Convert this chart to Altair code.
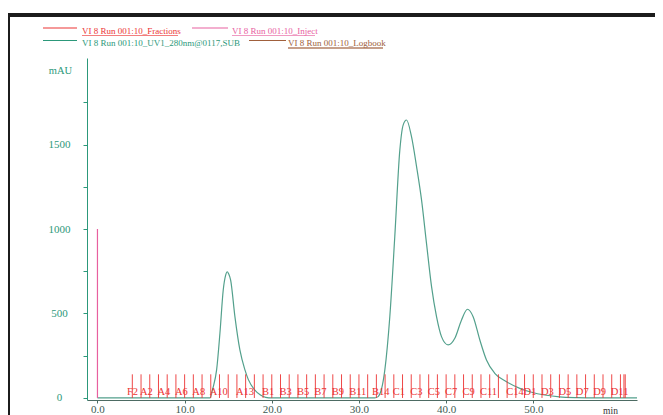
import altair as alt
import pandas as pd

# ---- data ----
uv_time = [0.0, 12.9, 13.25, 13.67, 14.05, 14.43, 14.7, 14.89, 15.05, 15.28, 15.77, 16.34,
           16.92, 17.3, 18.0, 18.7, 19.3, 20.0, 31.8, 32.2, 32.97, 33.54, 34.11, 34.69,
           35.07, 35.46, 36.03, 36.61, 37.18, 37.75, 38.33, 38.9, 39.47, 40.23, 41.0,
           41.77, 42.45, 43.1, 43.87, 44.63, 45.58, 46.93, 48.45, 49.6, 51.5, 53.0, 55.0,
           57.0, 61.9]
uv_mau = [0, 0, 59, 166, 383, 639, 725, 747, 735, 698, 481, 284,
          166, 110, 50, 18, 4, 0, 0, 8, 166, 481, 954, 1467,
          1615, 1645, 1546, 1369, 1172, 915, 659, 481, 363, 314, 353,
          462, 525, 481, 343, 225, 146, 96, 57, 37, 16, 7, 2,
          0, 0]

frac_marks = [4, 5, 6, 7, 8, 9, 10, 11, 12, 13, 14, 15, 16, 17, 18, 19, 20, 21, 22, 23,
              24, 25, 26, 27, 28, 29, 30, 31, 32, 33, 34, 35, 36, 37, 38, 39, 40, 41, 42,
              43, 44, 45, 46, 47, 48, 49, 50, 51, 52, 53, 54, 55, 56, 57, 58, 59, 60,
              60.4, 60.55]
frac_label_names = ["F2", "A2", "A4", "A6", "A8", "A10", "A13", "B1", "B3", "B5", "B7",
                    "B9", "B11", "B14", "C1", "C3", "C5", "C7", "C9", "C11", "C14", "D1",
                    "D3", "D5", "D7", "D9", "D11"]
frac_label_times = [3.5, 5, 7, 9, 11, 13, 16, 19, 21, 23, 25, 27, 29, 31.6, 34, 36, 38, 40,
                    42, 44, 47, 49, 51, 53, 55, 57, 59]
inject_time = [0.0]
inject_mau = [1000]

legend_names = ["VI 8 Run 001:10_Fractions", "VI 8 Run 001:10_Inject",
                "VI 8 Run 001:10_UV1_280nm@0117,SUB", "VI 8 Run 001:10_Logbook"]
x_ticks = [0, 10, 20, 30, 40, 50]
y_ticks = [0, 250, 500, 750, 1000, 1250, 1500, 1750]

# ---- styling ----
SERIF = "Liberation Serif"
RED = "#ec3434"
PINK = "#e8609f"
GREEN = "#2c987a"
CURVE = "#53a08c"
BROWN = "#a0603c"
AXIS_X = "#4d6b63"

xs = alt.Scale(domain=[-1.2, 61.9], nice=False, zero=False)
ys = alt.Scale(domain=[-12, 2012], nice=False, zero=False)

uv_df = pd.DataFrame({"t": uv_time, "v": uv_mau})
frac_df = pd.DataFrame({"t": frac_marks})
lab_df = pd.DataFrame({"t": frac_label_times, "label": frac_label_names})
inj_df = pd.DataFrame({"t": inject_time, "h": inject_mau})
one = pd.DataFrame({"d": [0]})

uv = alt.Chart(uv_df).mark_line(color=CURVE, strokeWidth=1.2, interpolate="monotone").encode(
    x=alt.X("t:Q", scale=xs, axis=alt.Axis(
        values=x_ticks, format=".1f", grid=False, title="min", titleAngle=0,
        titleX=523, titleY=10, titleAlign="center", titleBaseline="middle",
        titleFont=SERIF, titleFontSize=9.5, titleFontWeight="normal", titleColor="#333333",
        labelFont=SERIF, labelFontSize=11, labelColor="#3d5a52", labelPadding=0,
        tickSize=3, tickColor=AXIS_X, domainColor=AXIS_X, labelFlush=False)),
    y=alt.Y("v:Q", scale=ys, axis=alt.Axis(
        values=y_ticks, format="d", grid=False,
        labelExpr="datum.value % 500 == 0 ? datum.label : ''",
        title="mAU", titleAngle=0, titleX=-27, titleY=12, titleAlign="center",
        titleBaseline="middle", titleFont=SERIF, titleFontSize=10.5,
        titleFontWeight="normal", titleColor=GREEN,
        labelFont=SERIF, labelFontSize=11, labelColor=GREEN, labelAlign="center",
        labelPadding=24, tickSize=4, tickColor=GREEN, domainColor=GREEN, labelFlush=False)),
)

fracs = alt.Chart(frac_df).transform_calculate(y0="0", y1="140").mark_rule(
    color=RED, strokeWidth=1, opacity=0.9
).encode(
    x=alt.X("t:Q", scale=xs),
    y=alt.Y("y0:Q", scale=ys),
    y2="y1:Q",
)

flabels = alt.Chart(lab_df).transform_calculate(yl="35").mark_text(
    align="left", baseline="middle", dx=-1, font=SERIF, fontSize=10.5, color=RED
).encode(
    x=alt.X("t:Q", scale=xs),
    y=alt.Y("yl:Q", scale=ys),
    text="label:N",
)

inject = alt.Chart(inj_df).transform_calculate(y0="0").mark_rule(
    color=PINK, strokeWidth=1.2
).encode(
    x=alt.X("t:Q", scale=xs),
    y=alt.Y("y0:Q", scale=ys),
    y2="h:Q",
)

layers = [uv, fracs, inject, flabels]

# ---- hand-drawn legend (plot-relative pixel positions) ----
legend_spec = [
    # name index, color, line x0, line x1, line y, text x, text y, underline width
    (0, RED, -44, -10, -30, -5, -27.5, 96),
    (1, PINK, 105, 141, -30, 145, -27.5, 83),
    (2, GREEN, -44, -10, -17.5, -5, -15.5, 0),
    (3, BROWN, 162, 199, -17.5, 201, -15, 95),
]
for idx, col, lx0, lx1, ly, tx, ty, uw in legend_spec:
    layers.append(alt.Chart(one).mark_rule(color=col, strokeWidth=1.2).encode(
        x=alt.value(lx0), x2=alt.value(lx1), y=alt.value(ly)))
    layers.append(alt.Chart(one).mark_text(
        align="left", baseline="middle", font=SERIF, fontSize=9, color=col).encode(
        x=alt.value(tx), y=alt.value(ty), text=alt.value(legend_names[idx])))
    if uw:
        layers.append(alt.Chart(one).mark_rule(
            color=col, strokeWidth=1.5 if idx == 3 else 0.8, opacity=0.8).encode(
            x=alt.value(tx), x2=alt.value(tx + uw), y=alt.value(ty + 5)))

# ---- window frame (top and left dark border) ----
layers.append(alt.Chart(one).mark_rule(color="#1c1c1c", strokeWidth=4).encode(
    x=alt.value(-79), x2=alt.value(570), y=alt.value(-43)))
layers.append(alt.Chart(one).mark_rule(color="#1c1c1c", strokeWidth=3).encode(
    x=alt.value(-78.5), y=alt.value(-45), y2=alt.value(360)))

chart = alt.layer(*layers).properties(
    width=550, height=342,
    autosize=alt.AutoSizeParams(type="none"),
    padding={"left": 79, "top": 50, "right": 18, "bottom": 15},
    background="white",
).configure_view(stroke=None)

chart.save("out.html", embed_options={"renderer": "svg", "actions": False})
